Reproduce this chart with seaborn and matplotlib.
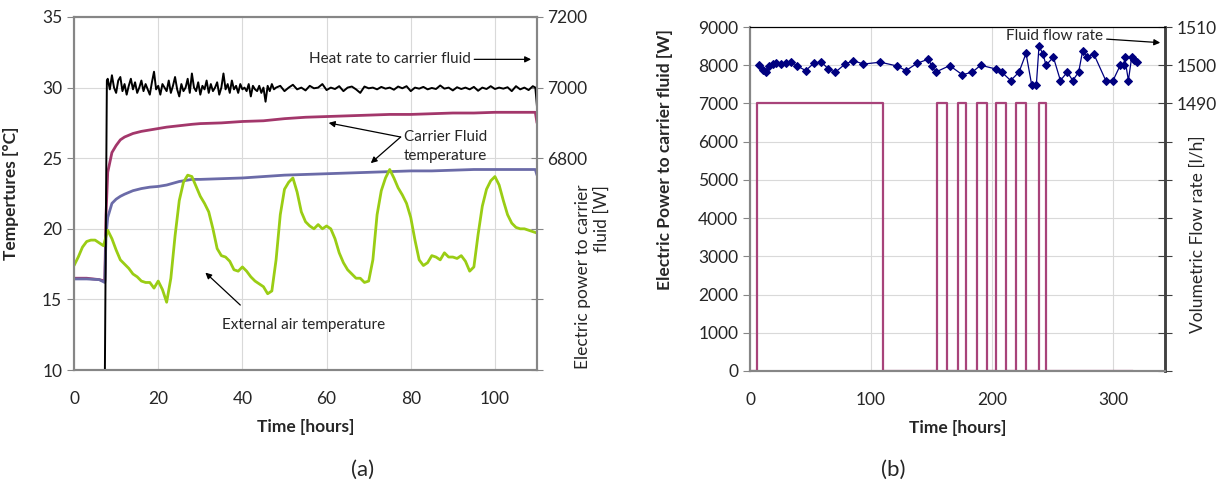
import numpy as np
import pandas as pd
import matplotlib
matplotlib.use("Agg")
import matplotlib.pyplot as plt
import seaborn as sns

# ---------------- (a) temperatures and heat rate, 0-110 hours ----------------
carrier_hours = [0, 3, 6, 7.3, 7.6, 8, 9, 10, 11, 12, 14, 16, 18, 20, 22, 25, 28, 30, 35,
                 40, 45, 50, 55, 60, 65, 70, 75, 80, 85, 90, 95, 100, 105, 109.6, 110]
carrier_upper = [16.5, 16.5, 16.4, 16.3, 21.0, 24.0, 25.4, 25.9, 26.3, 26.5, 26.75, 26.9,
                 27.0, 27.1, 27.2, 27.3, 27.4, 27.45, 27.5, 27.6, 27.65, 27.8, 27.9, 27.95,
                 28.0, 28.05, 28.1, 28.1, 28.15, 28.2, 28.2, 28.25, 28.25, 28.25, 27.5]
carrier_lower = [16.45, 16.45, 16.4, 16.2, 19.5, 20.8, 21.8, 22.1, 22.3, 22.45, 22.7, 22.85,
                 22.95, 23.0, 23.1, 23.35, 23.5, 23.5, 23.55, 23.6, 23.7, 23.8, 23.85, 23.9,
                 23.95, 24.0, 24.05, 24.1, 24.1, 24.15, 24.2, 24.2, 24.2, 24.2, 23.8]

air_hours = list(range(0, 111))
air_temp = [17.4, 18.0, 18.7, 19.1, 19.2, 19.2, 19.0, 18.8, 19.9, 19.3,
            18.5, 17.8, 17.5, 17.2, 16.8, 16.6, 16.3, 16.2, 16.2, 15.8,
            16.3, 15.7, 14.8, 16.5, 19.5, 22.0, 23.3, 23.8, 23.7, 23.0,
            22.3, 21.8, 21.2, 20.0, 18.6, 18.1, 18.0, 17.7, 17.1, 17.0,
            17.3, 17.0, 16.6, 16.3, 16.1, 15.9, 15.4, 15.6, 17.8, 21.0,
            22.8, 23.3, 23.6, 22.6, 21.2, 20.5, 20.2, 20.0, 20.3, 20.0,
            20.2, 20.0, 19.3, 18.3, 17.6, 17.1, 16.8, 16.5, 16.5, 16.2,
            16.3, 17.8, 21.0, 22.7, 23.6, 24.2, 23.6, 22.9, 22.4, 21.8,
            20.8, 19.2, 17.8, 17.4, 17.6, 18.1, 18.0, 17.8, 18.3, 18.0,
            18.0, 17.9, 18.1, 17.7, 17.0, 17.3, 19.6, 21.6, 22.8, 23.4,
            23.7, 23.1, 22.0, 21.0, 20.4, 20.1, 20.0, 20.0, 19.9, 19.8, 19.7]

# heat rate: half-hour readings up to 48 h, hourly afterwards
heat_hours = [7.3, 7.8] + list(np.arange(8, 48.5, 0.5)) + list(range(49, 110)) + [109.6, 110]
heat_rate = [6150, 7020,
             7025, 6995, 7035, 7000, 6985, 7020, 7030, 6990, 7010, 6980,
             7005, 7025, 6995, 7015, 6985, 7000, 7020, 6990, 7010, 6995,
             6980, 7015, 7045, 6995, 7005, 6980, 7010, 7000, 6990, 7020,
             6985, 7005, 7030, 6995, 6975, 7010, 6990, 7000, 7025, 6985,
             7040, 7000, 6990, 7015, 6980, 7005, 6995, 7020, 6985, 7010,
             6990, 7000, 7015, 6980, 7000, 7040, 6995, 7010, 6985, 7020,
             6995, 7005, 6985, 7010, 6995, 7000, 6990, 7010, 6975, 7005,
             6995, 6990, 7005, 6985, 7000, 6960, 7005, 6990, 7010, 6995, 7000,
             7005, 6990, 7000, 7008, 6995, 7000, 6992, 7005, 6998, 7000,
             7010, 6993, 7000, 6996, 7004, 6990, 7000, 7003, 6995, 6985,
             7003, 6998, 7000, 6995, 7002, 6997, 7000, 6994, 7003, 6998,
             7004, 6990, 7000, 6997, 7002, 6995, 6999, 6996, 7006, 6997,
             7000, 6992, 7001, 6996, 7000, 6995, 7002, 6991, 7000, 6996,
             7004, 6996, 7000, 6997, 7001, 6990, 7004, 6995, 7000, 6993, 7004,
             7000, 6945]

# ---------------- (b) electric power and flow rate, 0-320 hours ----------------
power_hours = [0, 6, 110, 154.5, 163, 171.5, 178.5, 187.5, 196, 203.5, 211.5, 220, 228,
               239, 244.5, 316.5]
power_w = [0, 7000, 0, 7000, 0, 7000, 0, 7000, 0, 7000, 0, 7000, 0, 7000, 0, 0]

flow_hours = [7.4, 10.5, 13.5, 16.0, 18.7, 21.5, 25.6, 29.8, 34.2, 39.1, 46.0, 52.6, 58.7,
              64.5, 70.2, 78.5, 85.4, 93.7, 107.7, 121.5, 128.9, 138.0, 147.4, 150.1, 153.4,
              165.0, 175.5, 183.7, 190.6, 203.3, 208.0, 215.4, 222.3, 228.1, 232.8, 236.6,
              238.8, 242.1, 244.6, 250.7, 256.5, 262.2, 266.7, 271.6, 274.9, 278.5, 284.0,
              294.0, 300.0, 306.0, 309.0, 309.6, 312.7, 315.4, 317.6, 319.6]
flow_lh = [1500.0, 1498.8, 1498.1, 1499.8, 1500.3, 1500.5, 1500.3, 1500.7, 1500.9, 1499.8,
           1498.6, 1500.5, 1500.9, 1499.1, 1498.1, 1500.3, 1501.2, 1500.3, 1500.8, 1499.8,
           1498.6, 1500.5, 1501.6, 1499.8, 1498.2, 1499.9, 1497.5, 1498.2, 1500.0, 1499.0,
           1498.2, 1496.0, 1498.2, 1503.1, 1494.8, 1494.8, 1504.9, 1503.0, 1500.0, 1502.1,
           1496.0, 1498.2, 1496.0, 1498.2, 1503.8, 1502.1, 1503.0, 1496.0, 1496.0, 1500.0,
           1500.0, 1502.1, 1496.0, 1502.1, 1501.4, 1500.9]

sns.set_style("white")
plt.rcParams['font.family'] = ['Lato', 'DejaVu Sans']

GRID = '#d9d9d9'
SPINE = '#868686'
TICK_FS = 12.5
LAB_FS = 12.5
NOTE_FS = 11

fig = plt.figure(figsize=(12.3, 4.91), dpi=100)

# ======================= panel (a) =======================
ax = fig.add_axes([0.0602, 0.2464, 0.3764, 0.719])
sns.lineplot(x=carrier_hours, y=carrier_upper, ax=ax, color='#a3376b', lw=2, estimator=None)
sns.lineplot(x=carrier_hours, y=carrier_lower, ax=ax, color='#6b6ba8', lw=2, estimator=None)
sns.lineplot(x=air_hours, y=air_temp, ax=ax, color='#9acd14', lw=2, estimator=None)
ax.set_xlim(0, 110)
ax.set_ylim(10, 35)
ax.set_xticks([0, 20, 40, 60, 80, 100])
ax.set_yticks([10, 15, 20, 25, 30, 35])
ax.grid(True, color=GRID, lw=0.8)
ax.set_axisbelow(True)
ax.set_xlabel('Time [hours]', fontsize=LAB_FS, fontweight='bold', labelpad=9)
ax.set_ylabel('Tempertures [°C]', fontsize=LAB_FS, fontweight='bold')
ax.yaxis.set_label_coords(-0.119, 0.5)
ax.tick_params(axis='both', labelsize=TICK_FS, direction='out', length=5, color=SPINE)
ax.tick_params(axis='x', pad=10)

ax2 = ax.twinx()
sns.lineplot(x=heat_hours, y=heat_rate, ax=ax2, color='black', lw=1.4, estimator=None)
ax2.set_ylim(6200, 7200)
ax2.set_yticks([6200, 6400, 6600, 6800, 7000, 7200])
ax2.set_yticklabels(['', '', '', '6800', '7000', '7200'])
ax2.tick_params(axis='y', labelsize=TICK_FS, direction='inout', length=8, color=SPINE)
ax2.set_ylabel('Electric power to carrier\nfluid [W]', fontsize=LAB_FS, multialignment='right')
ax2.yaxis.set_label_coords(1.082, 0.263)
for a in (ax, ax2):
    for s in a.spines.values():
        s.set_color(SPINE)
        s.set_linewidth(1.5)

ann = dict(arrowstyle='-|>', color='black', lw=0.9, mutation_scale=9, shrinkA=0, shrinkB=0)
ax.annotate('Heat rate to carrier fluid', xy=(108.6, 32.0), xytext=(94.3, 32.0),
            ha='right', va='center', fontsize=NOTE_FS, arrowprops=ann)
ax.text(78.3, 25.85, 'Carrier Fluid\ntemperature', ha='left', va='center', fontsize=NOTE_FS,
        multialignment='center', linespacing=1.45)
ax.annotate('', xy=(60.5, 27.5), xytext=(77.6, 26.5), arrowprops=ann)
ax.annotate('', xy=(70.5, 24.65), xytext=(77.6, 26.5), arrowprops=ann)
ax.annotate('', xy=(31.2, 16.9), xytext=(39.5, 14.6), arrowprops=ann)
ax.text(54.5, 13.2, 'External air temperature', ha='center', va='center', fontsize=NOTE_FS)

# ======================= panel (b) =======================
bx = fig.add_axes([0.6098, 0.2444, 0.3374, 0.7006])
sns.lineplot(x=power_hours, y=power_w, ax=bx, color='#a8437a', lw=1.6,
             drawstyle='steps-post', estimator=None)
bx.set_xlim(0, 343)
bx.set_ylim(0, 9000)
bx.set_xticks([0, 100, 200, 300])
bx.set_yticks(range(0, 9001, 1000))
bx.grid(True, color=GRID, lw=0.8)
bx.set_axisbelow(True)
bx.set_xlabel('Time [hours]', fontsize=LAB_FS, fontweight='bold', labelpad=9)
bx.set_ylabel('Electric Power to carrier fluid [W]', fontsize=LAB_FS, fontweight='bold')
bx.yaxis.set_label_coords(-0.186, 0.616)
bx.tick_params(axis='both', labelsize=TICK_FS, direction='out', length=5, color=SPINE)
bx.tick_params(axis='x', pad=10)

bx2 = bx.twinx()
sns.lineplot(x=flow_hours, y=flow_lh, ax=bx2, color='#00007f', lw=0.9, marker='D',
             markersize=4, markeredgecolor='#00007f', estimator=None, sort=False)
bx2.set_ylim(1420, 1510)
bx2.set_yticks(range(1420, 1511, 10))
bx2.set_yticklabels(['' if v < 1490 else str(v) for v in range(1420, 1511, 10)])
bx2.tick_params(axis='y', labelsize=TICK_FS, direction='inout', length=10, color='#404040')
bx2.set_ylabel('Volumetric Flow rate [l/h]', fontsize=LAB_FS)
bx2.yaxis.set_label_coords(1.06, 0.398)
for a in (bx, bx2):
    a.spines['left'].set_color(SPINE)
    a.spines['left'].set_linewidth(1.5)
    a.spines['bottom'].set_color(SPINE)
    a.spines['bottom'].set_linewidth(1.5)
    a.spines['top'].set_color('black')
    a.spines['top'].set_linewidth(0.8)
    a.spines['right'].set_color('#404040')
    a.spines['right'].set_linewidth(1.8)

bx2.annotate('Fluid flow rate', xy=(339, 1505.9), xytext=(292, 1505.9),
             ha='right', va='bottom', fontsize=NOTE_FS, arrowprops=ann)

fig.text(363 / 1230, 1 - 470 / 491, '(a)', ha='center', va='center', fontsize=16)
fig.text(893 / 1230, 1 - 470 / 491, '(b)', ha='center', va='center', fontsize=16)

fig.savefig('out.png', dpi=100)
